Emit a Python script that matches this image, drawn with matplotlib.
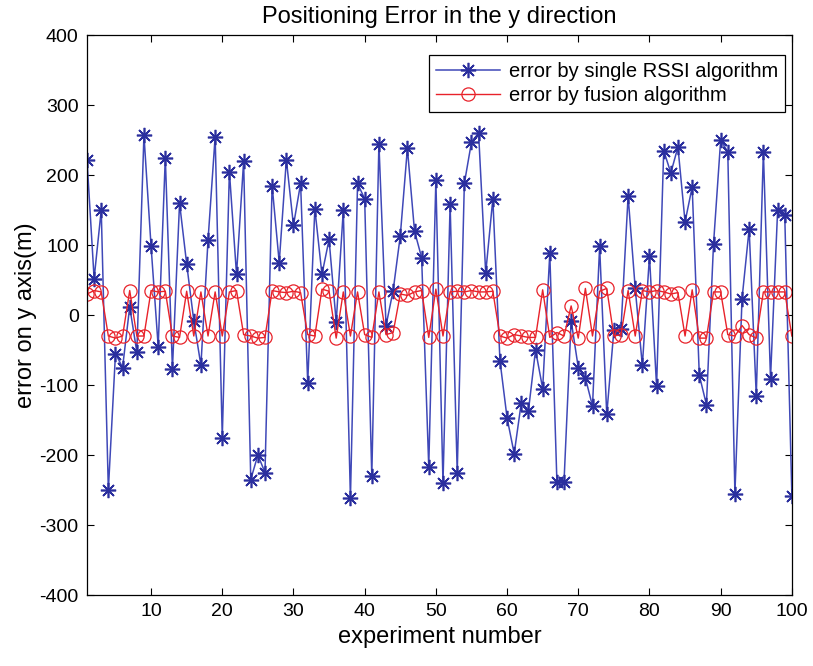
import matplotlib
matplotlib.use("Agg")
import matplotlib.pyplot as plt
import numpy as np

experiments = list(range(1, 101))

rssi_error = [222, 52, 150, -250, -55, -75, 12, -53, 257, 98,
              -45, 225, -77, 160, 73, -8, -72, 107, 255, -175,
              205, 58, 220, -235, -200, -225, 185, 75, 222, 128,
              188, -97, 152, 58, 108, -10, 150, -262, 188, 166,
              -230, 245, -15, 35, 113, 238, 120, 82, -217, 193,
              -240, 158, -225, 188, 247, 260, 60, 166, -65, -147,
              -198, -125, -137, -50, -105, 88, -238, -238, -8, -75,
              -90, -130, 98, -142, -22, -20, 170, 38, -72, 84,
              -102, 235, 203, 240, 133, 183, -86, -128, 102, 250,
              233, -255, 23, 123, -115, 233, -91, 150, 143, -258]

fusion_error = [30, 35, 33, -30, -33, -30, 35, -30, -30, 35,
                33, 34, -30, -32, 34, -30, 33, -30, 33, -30,
                33, 35, -28, -30, -33, -32, 35, 33, 32, 34,
                32, -28, -30, 37, 34, -33, 33, -30, 33, -28,
                -32, 33, -28, -25, 30, 28, 33, 35, -32, 37,
                -30, 33, 34, 33, 35, 33, 33, 34, -30, -33,
                -28, -30, -32, -32, 36, -32, -25, -30, 13, -33,
                38, -30, 34, 38, -30, -28, 35, -30, 35, 33,
                35, 33, 30, 32, -30, 36, -33, -33, 33, 33,
                -28, -30, -15, -28, -33, 33, 33, 33, 33, -30]

x_ticks = [10, 20, 30, 40, 50, 60, 70, 80, 90, 100]
y_ticks = [-400, -300, -200, -100, 0, 100, 200, 300, 400]

plt.rcParams['font.family'] = ['Liberation Sans', 'DejaVu Sans']
plt.rcParams['axes.unicode_minus'] = False

fig = plt.figure(figsize=(8.13, 6.66), dpi=100)
ax = fig.add_axes([0.107, 0.1066, 0.867, 0.8408])

ax.plot(experiments, rssi_error, color='#3f48b8', linewidth=1.1,
        marker=(8, 2, 0), markersize=11, markeredgecolor='#2b2f9e',
        markeredgewidth=1.2, label='error by single RSSI algorithm')
ax.plot(experiments, fusion_error, color='#e8222a', linewidth=1.0,
        marker='o', markersize=9.5, markerfacecolor='none',
        markeredgecolor='#e8222a', markeredgewidth=0.9,
        label='error by fusion algorithm')

ax.set_xlim(1, 100)
ax.set_ylim(-400, 400)
ax.set_xticks(x_ticks)
ax.set_yticks(y_ticks)
ax.tick_params(direction='in', length=5, width=0.8, labelsize=14,
               top=True, right=True, pad=6)
for s in ax.spines.values():
    s.set_linewidth(0.9)

ax.set_title('Positioning Error in the y direction', fontsize=17, pad=9)
ax.set_xlabel('experiment number', fontsize=17, labelpad=4)
ax.set_ylabel('error on y axis(m)', fontsize=17, labelpad=2)

leg = ax.legend(loc='upper right', bbox_to_anchor=(0.99, 0.965),
                fontsize=14.5, frameon=True, fancybox=False,
                edgecolor='black', framealpha=1, borderpad=0.35,
                handlelength=3.2, handletextpad=0.4, labelspacing=0.25,
                borderaxespad=0)
leg.get_frame().set_linewidth(0.9)

fig.savefig('out.png', dpi=100, facecolor='white')
